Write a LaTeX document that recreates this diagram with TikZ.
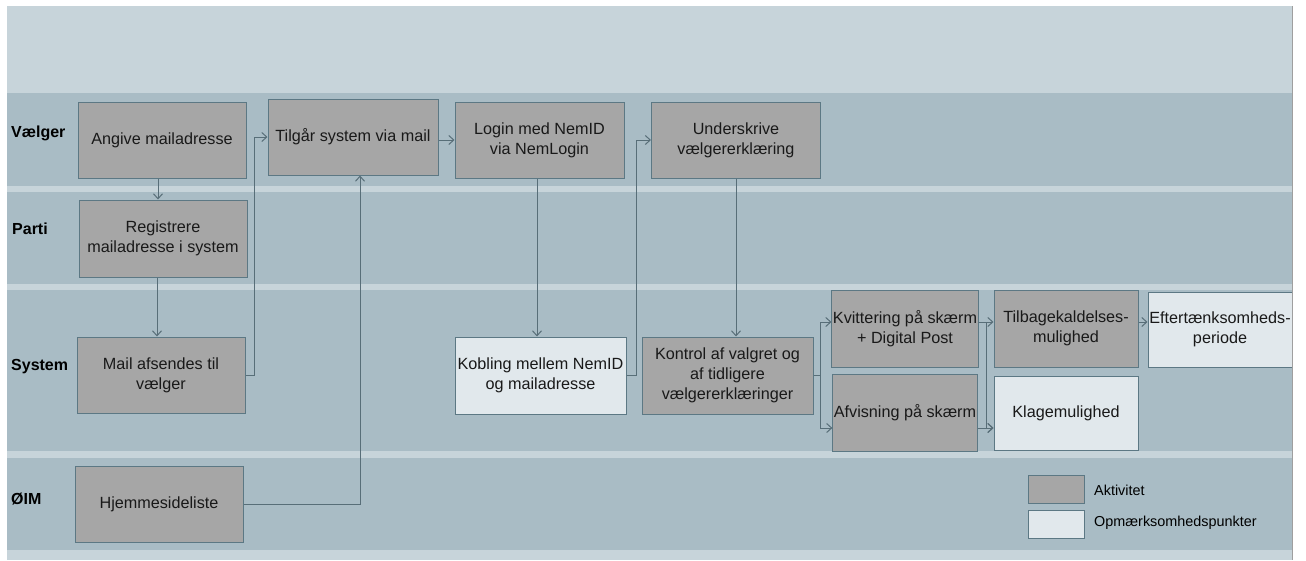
\documentclass[tikz,border=0pt]{standalone}
\usepackage{fontspec}
\setmainfont{Liberation Sans}
\usepackage{tikz}
\usetikzlibrary{arrows.meta}
\definecolor{headfill}{RGB}{199,212,218}
\definecolor{lanefill}{RGB}{169,188,197}
\definecolor{aktfill}{RGB}{166,166,166}
\definecolor{opmfill}{RGB}{225,232,236}
\definecolor{boxline}{RGB}{92,120,132}
\definecolor{flowline}{RGB}{88,110,120}
\tikzstyle{akt} = [draw=boxline, fill=aktfill, line width=1pt, minimum width=168pt, minimum height=76pt, inner sep=1pt, align=center, text=black!90, font=\fontsize{16.2}{20}\selectfont]
\tikzstyle{opm} = [akt, fill=opmfill]
\tikzstyle{lanelabel} = [anchor=west, inner sep=0pt, font=\fontsize{16}{18}\selectfont\bfseries]
\tikzstyle{legtext} = [anchor=west, inner sep=0pt, font=\fontsize{14.4}{16}\selectfont]
\tikzstyle{flow} = [draw=flowline, line width=1pt, >={Straight Barb[length=5pt,width=9pt]}]

\begin{document}
\begin{tikzpicture}[x=1pt, y=-1pt]
	  \useasboundingbox (0,0) rectangle (1306,560);
	  \fill [white] (0,0) rectangle (1306,560);
	  \fill [headfill] (7,6) rectangle (1292,560);
	  \fill [lanefill] (7,93) rectangle (1292,186);
	  \fill [lanefill] (7,192) rectangle (1292,284);
	  \fill [lanefill] (7,290) rectangle (1292,451);
	  \fill [lanefill] (7,458) rectangle (1292,550);

	  \node (lv) at (11,133) [lanelabel] {Vælger};
	  \node (lp) at (12,229) [lanelabel] {Parti};
	  \node (ls) at (11,367) [lanelabel] {System};
	  \node (lo) at (11,499) [lanelabel] {ØIM};

	  \node (angive) at (162,140) [akt] {Angive mailadresse};
	  \node (tilgaar) at (353,137) [akt, minimum width=170pt] {Tilgår system via mail};
	  \node (login) at (539.5,140) [akt, minimum width=169pt] {Login med NemID\\via NemLogin};
	  \node (underskrive) at (736,140) [akt, minimum width=169pt] {Underskrive\\vælgererklæring};
	  \node (registrere) at (163,238.5) [akt, minimum height=77pt] {Registrere\\mailadresse i system};
	  \node (mail) at (161,375) [akt] {Mail afsendes til\\vælger};
	  \node (hjem) at (159,504) [akt] {Hjemmesideliste};
	  \node (kobling) at (540.5,375.5) [opm, minimum width=171pt, minimum height=77pt] {Kobling mellem NemID\\og mailadresse};
	  \node (kontrol) at (727.5,375.5) [akt, minimum width=171pt, minimum height=77pt] {Kontrol af valgret og\\af tidligere\\vælgererklæringer};
	  \node (kvit) at (905,328.5) [akt, minimum width=144pt, minimum height=77pt] {Kvittering på skærm\\+ Digital Post};
	  \node (afvis) at (905,412.5) [akt, minimum width=144pt, minimum height=77pt] {Afvisning på skærm};
	  \node (tilbage) at (1066,328.5) [akt, minimum width=144pt, minimum height=77pt] {Tilbagekaldelses-\\mulighed};
	  \node (klage) at (1066,413) [opm, minimum width=144pt, minimum height=74pt] {Klagemulighed};
	  \node (efter) at (1220,329.5) [opm, minimum width=144pt, minimum height=75pt] {Eftertænksomheds-\\periode};

	  \node (legakt) at (1056,489) [akt, minimum width=56pt, minimum height=28pt] {};
	  \node (legopm) at (1056,524) [opm, minimum width=56pt, minimum height=28pt] {};
	  \node (legakttxt) at (1094,490) [legtext] {Aktivitet};
	  \node (legopmtxt) at (1094,523) [legtext] {Opmærksomhedspunkter};

	  \coordinate (p1) at ([xshift=-4pt]angive.south);
	  \coordinate (p2) at ([xshift=-6pt]registrere.south);
	  \coordinate (p3) at ([xshift=7pt]tilgaar.south);
	  \coordinate (p4) at ([xshift=-2.5pt]login.south);
	  \coordinate (kv) at ([yshift=6.5pt]kvit.west);
	  \coordinate (af) at ([yshift=-15.5pt]afvis.west);

	  \draw [flow, ->] (p1) to (p1 |- registrere.north);
	  \draw [flow, ->] (p2) to (p2 |- mail.north);
	  \draw [flow, ->] (mail.east) -- ++(9,0) |- (tilgaar.west);
	  \draw [flow, ->] (hjem.east) -| (p3);
	  \draw [flow, ->] (tilgaar.east |- login.west) to (login.west);
	  \draw [flow, ->] (p4) to (p4 |- kobling.north);
	  \draw [flow, ->] (kobling.east) -- ++(10,0) |- (underskrive.west);
	  \draw [flow, ->] (underskrive.south) to (underskrive.south |- kontrol.north);
	  \draw [flow, ->] (kontrol.east) -- ++(7,0) |- (kv);
	  \draw [flow, ->] (kontrol.east) -- ++(7,0) |- (af);
	  \draw [flow, ->] (kv -| kvit.east) to (kv -| tilbage.west);
	  \draw [flow, ->] (kv -| kvit.east) -- ++(8,0) |- (af -| klage.west);
	  \draw [flow, ->] (af -| afvis.east) to (af -| klage.west);
	  \draw [flow, ->] (kv -| tilbage.east) to (kv -| efter.west);

	  \draw [gray!75, line width=1.2pt] (1292.5,6) -- (1292.5,560);
	\end{tikzpicture}
\end{document}
